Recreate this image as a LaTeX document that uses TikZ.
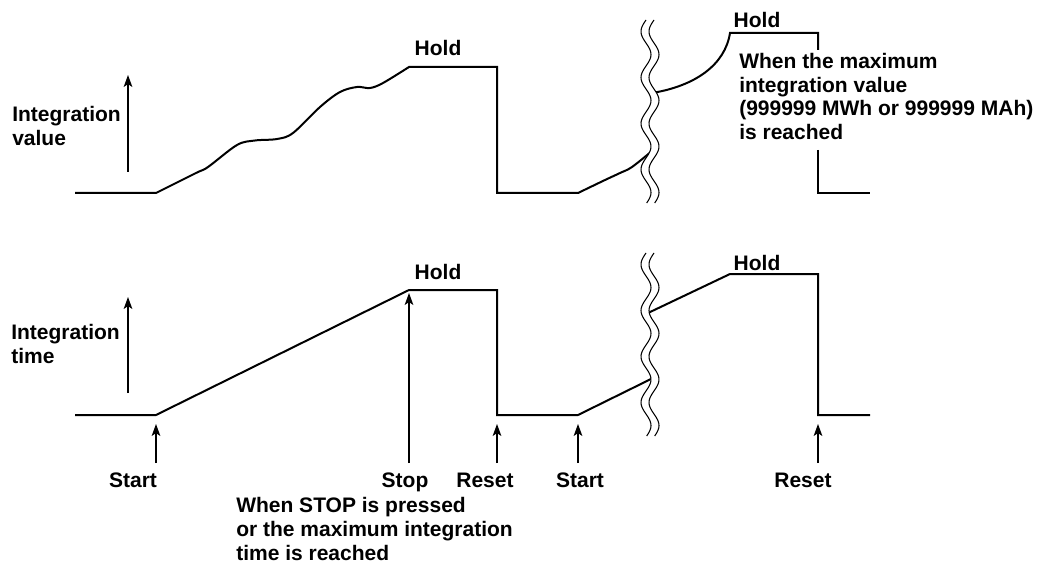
\documentclass[tikz,border=0pt]{standalone}
\usepackage{fontspec}
\setmainfont{Liberation Sans}
\usetikzlibrary{arrows.meta}
\newcommand\breakmark[3]{% #1 = centre x, #2 = top y, #3 = bottom y
  \fill[white] plot[domain=#2:#3,samples=90,variable=\t] ({#1-4-5*sin(7.826*(\t-#2))},\t)
     -- plot[domain=#3:#2,samples=90,variable=\t] ({#1+4-5*sin(7.826*(\t-#2))},\t) -- cycle;
  \draw[brk] plot[domain=#2:#3,samples=90,variable=\t] ({#1-4-5*sin(7.826*(\t-#2))},\t);
  \draw[brk] plot[domain=#2:#3,samples=90,variable=\t] ({#1+4-5*sin(7.826*(\t-#2))},\t);
}
\begin{document}
\begin{tikzpicture}[x=0.75pt,y=-0.75pt,
  sig/.style={line width=1.5pt, line join=miter, line cap=butt},
  up/.style={line width=0.8pt, -{Stealth[length=9pt,width=6.5pt,inset=2.2pt]}},
  lbl/.style={font=\fontsize{15.75}{18}\selectfont\bfseries, inner sep=0pt},
  para/.style={lbl, align=left, anchor=north west},
  brk/.style={line width=0.8pt},
]
\useasboundingbox (0,0) rectangle (1050,563);

% ---------- upper graph: integration value ----------
\coordinate (t0) at (75,193);
\coordinate (t1) at (156,193);
\coordinate (t3) at (497,67);
\coordinate (t4) at (497,193);
\coordinate (t5) at (578,193);
\coordinate (t6) at (652,93);
\coordinate (t7) at (730,33);
\coordinate (t8) at (818,33);
\coordinate (t9) at (818,50);
\coordinate (t10) at (818,150);
\coordinate (t11) at (818,193);
\coordinate (t12) at (870,193);

\draw[sig] (t0) -- plot[smooth,tension=0.55] coordinates {(156,193) (196,173) (208,167) (237,145) (255,140.5) (277,139) (293,133) (320,107) (340,92) (357,87) (370,88) (383,83) (409,67)}
  -- (t3) -- (t4) -- (t5)
  -- plot[smooth,tension=0.55] coordinates {(578,193) (605,180) (620,173) (632,167) (652,151)};
\draw[sig] (t6) .. controls (695,86) and (725,65) .. (t7) -- (t8) -- (t9);
\draw[sig] (t10) -- (t11) -- (t12);

\breakmark{650}{20}{203}

\coordinate (ya1) at (128,172);
\coordinate (ya2) at (128,75);
\draw[up] (ya1) -- (ya2);
\node[para] (ivlab) at (12,106) {Integration\\value};
\node[lbl, anchor=base] (hold1) at (438,56) {Hold};
\node[lbl, anchor=base] (hold2) at (757,28) {Hold};
\node[para, font=\fontsize{15.75}{17.8}\selectfont\bfseries] (maxv) at (739,53) {When the maximum\\integration value\\(999999 MWh or 999999 MAh)\\is reached};

% ---------- lower graph: integration time ----------
\coordinate (b0) at (75,415);
\coordinate (b1) at (156,415);
\coordinate (b2) at (409,290);
\coordinate (b3) at (497,290);
\coordinate (b4) at (497,415);
\coordinate (b5) at (578,415);
\coordinate (b6) at (652,378.5);
\coordinate (b7) at (648,313);
\coordinate (b8) at (730,274);
\coordinate (b9) at (818,274);
\coordinate (b10) at (818,415);
\coordinate (b11) at (870,415);

\draw[sig] (b0) -- (b1) -- (b2) -- (b3) -- (b4) -- (b5) -- (b6);
\draw[sig] (b7) -- (b8) -- (b9) -- (b10) -- (b11);

\breakmark{650}{253}{436}

\coordinate (yb1) at (128,393);
\coordinate (yb2) at (128,297);
\draw[up] (yb1) -- (yb2);
\node[para] (itlab) at (11,324) {Integration\\time};
\node[lbl, anchor=base] (hold3) at (438,279) {Hold};
\node[lbl, anchor=base] (hold4) at (757,270) {Hold};

% event arrows and labels
\coordinate (a1) at (156,463);  \coordinate (a1t) at (156,424);
\coordinate (a2) at (409,463);  \coordinate (a2t) at (409,293);
\coordinate (a3) at (497,463);  \coordinate (a3t) at (497,424);
\coordinate (a4) at (578,463);  \coordinate (a4t) at (578,424);
\coordinate (a5) at (818,463);  \coordinate (a5t) at (818,424);
\draw[up] (a1) -- (a1t);
\draw[up] (a2) -- (a2t);
\draw[up] (a3) -- (a3t);
\draw[up] (a4) -- (a4t);
\draw[up] (a5) -- (a5t);

\node[lbl, anchor=base] (start1) at (133,487) {Start};
\node[lbl, anchor=base] (stop) at (405,487) {Stop};
\node[lbl, anchor=base] (reset1) at (485,487) {Reset};
\node[lbl, anchor=base] (start2) at (580,487) {Start};
\node[lbl, anchor=base] (reset2) at (803,487) {Reset};
\node[para, font=\fontsize{15.75}{18}\selectfont\bfseries] (stopnote) at (236,497) {When STOP is pressed\\or the maximum integration\\time is reached};
\end{tikzpicture}
\end{document}
